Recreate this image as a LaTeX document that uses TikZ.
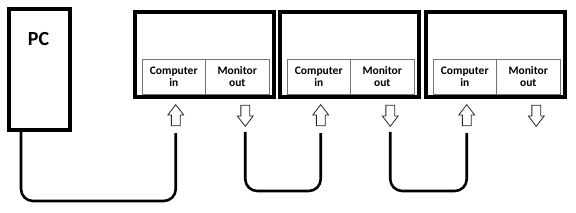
\documentclass[tikz,border=0pt]{standalone}
\usepackage{fontspec}
\setmainfont{Carlito}
\usetikzlibrary{positioning,shapes.arrows}

\begin{document}
\begin{tikzpicture}[x=1pt,y=-1pt,
  screen/.style={draw,line width=4pt,minimum width=139pt,minimum height=85pt,inner sep=0pt},
  port/.style={draw=black!55,line width=0.8pt,minimum width=63.5pt,minimum height=35pt,inner sep=0pt,outer sep=0pt,align=center,font=\fontsize{11.5}{12}\selectfont\bfseries},
  plug/.style={single arrow,draw=black!85,line width=0.8pt,fill=white,minimum height=21pt,inner sep=4pt,single arrow head extend=3.5pt,single arrow tip angle=75},
  cable/.style={line width=2.6pt,rounded corners=12pt}]
\useasboundingbox (0,0) rectangle (576,213);
% PC tower
\node[draw,line width=4pt,minimum width=61pt,minimum height=121pt,inner sep=0pt] (pc) at (39.5,69.5) {};
\node[font=\fontsize{20}{22}\selectfont\bfseries] (pclabel) at (38.5,39) {PC};
\coordinate (pcout) at (21,132);
% three monitors in a row
\node[screen] (m1) at (204.5,54.5) {};
\node[screen,right=2pt of m1] (m2) {};
\node[screen,right=3pt of m2] (m3) {};
\foreach \m in {1,2,3}{
  \node[port,anchor=south west] (comp\m) at ([xshift=9pt,yshift=5pt]m\m.south west) {Computer\\in};
  \node[port,right=0pt of comp\m] (mon\m) {Monitor\\out};
  \node[plug,shape border rotate=90,anchor=tip] (up\m) at ([xshift=2pt,yshift=-10pt]comp\m.south) {};
  \node[plug,shape border rotate=270,anchor=tip] (dn\m) at ([xshift=8pt,yshift=-33pt]mon\m.south) {};
}
% cables
\draw[cable] (pcout) -- ++(0,69) -| ([yshift=-7pt]up1.tail);
\draw[cable] ([yshift=-5pt]dn1.tip) -- ++(0,59) -| ([yshift=-7pt]up2.tail);
\draw[cable] ([yshift=-5pt]dn2.tip) -- ++(0,59) -| ([yshift=-7pt]up3.tail);
\end{tikzpicture}
\end{document}
